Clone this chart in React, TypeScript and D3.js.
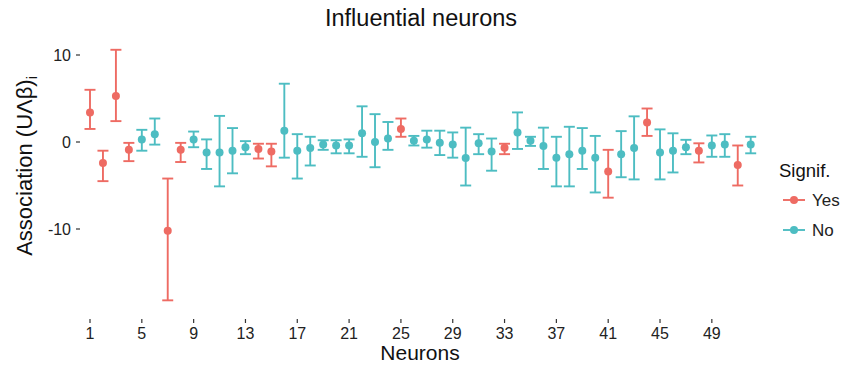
import React from "react";
import * as d3 from "d3";

const neurons = [1,2,3,4,5,6,7,8,9,10,11,12,13,14,15,16,17,18,19,20,21,22,23,24,25,26,27,28,29,30,31,32,33,34,35,36,37,38,39,40,41,42,43,44,45,46,47,48,49,50,51,52];
const estimate = [3.4,-2.4,5.3,-0.9,0.3,0.9,-10.2,-0.9,0.3,-1.2,-1.2,-1.0,-0.6,-0.8,-1.1,1.3,-1.0,-0.7,-0.3,-0.4,-0.4,1.0,0.0,0.4,1.5,0.15,0.3,-0.1,-0.3,-1.85,-0.15,-1.1,-0.65,1.1,0.15,-0.45,-1.8,-1.4,-1.0,-1.8,-3.4,-1.4,-0.7,2.25,-1.2,-1.0,-0.6,-1.0,-0.4,-0.3,-2.65,-0.3];
const upper = [6.0,-1.0,10.6,-0.1,1.4,2.7,-4.2,-0.1,1.2,0.3,3.0,1.6,0.1,-0.2,-0.2,6.7,0.9,0.6,0.2,0.2,0.3,4.1,3.2,2.3,2.7,0.7,1.3,1.3,1.1,1.65,0.9,0.4,-0.2,3.4,0.6,1.65,0.6,1.75,1.6,0.7,-0.9,1.25,2.95,3.85,1.45,1.0,0.25,-0.15,0.75,0.9,-0.4,0.6];
const lower = [1.5,-4.5,2.4,-2.2,-1.0,-0.3,-18.2,-2.3,-0.6,-3.1,-5.1,-3.6,-1.4,-1.9,-2.8,-1.8,-4.2,-2.7,-0.9,-1.3,-1.3,-1.7,-2.9,-0.9,0.6,-0.4,-0.65,-1.5,-1.8,-5.0,-1.4,-3.3,-1.4,-0.8,-0.45,-3.1,-5.1,-5.1,-3.1,-5.8,-6.4,-4.05,-4.3,0.7,-4.3,-3.5,-1.4,-2.35,-1.7,-1.7,-5.0,-1.3];
const signif = ["Yes","Yes","Yes","Yes","No","No","Yes","Yes","No","No","No","No","No","Yes","Yes","No","No","No","No","No","No","No","No","No","Yes","No","No","No","No","No","No","No","Yes","No","No","No","No","No","No","No","Yes","No","No","Yes","No","No","No","Yes","No","No","Yes","No"];
const xTicks = [1,5,9,13,17,21,25,29,33,37,41,45,49];
const yTicks = [-10,0,10];
const legendLevels = ["Yes","No"];

const colors: Record<string,string> = { Yes: "#EE6B63", No: "#4DBDC2" };
const font = "'Liberation Sans', Arial, Helvetica, sans-serif";

export default function App() {
  const W = 846, H = 365;
  const x = d3.scaleLinear().domain([1, 52]).range([90, 750.7]);
  const y = d3.scaleLinear().domain([-10, 10]).range([229, 55]);
  const panelBottom = 319;
  const panelLeft = 80;
  const cap = 5.5;
  return (
    <svg width={W} height={H} style={{ position: "absolute", left: 0, top: 0, background: "#fff" }} fontFamily={font}>
      <rect x={0} y={0} width={W} height={H} fill="#fff" />
      <text x={421} y={26} textAnchor="middle" fontSize={23.5} fill="#111">Influential neurons</text>
      {neurons.map((n, i) => {
        const c = colors[signif[i]];
        const cx = x(n);
        return (
          <g key={n} stroke={c} strokeWidth={1.9}>
            <line x1={cx} x2={cx} y1={y(upper[i])} y2={y(lower[i])} />
            <line x1={cx - cap} x2={cx + cap} y1={y(upper[i])} y2={y(upper[i])} />
            <line x1={cx - cap} x2={cx + cap} y1={y(lower[i])} y2={y(lower[i])} />
            <circle cx={cx} cy={y(estimate[i])} r={4} fill={c} stroke="none" />
          </g>
        );
      })}
      {yTicks.map((t) => (
        <g key={t}>
          <line x1={panelLeft - 4} x2={panelLeft} y1={y(t)} y2={y(t)} stroke="#333" strokeWidth={1.2} />
          <text x={panelLeft - 9} y={y(t)} dy="0.36em" textAnchor="end" fontSize={16} fill="#222">{t}</text>
        </g>
      ))}
      {xTicks.map((t) => (
        <g key={t}>
          <line x1={x(t)} x2={x(t)} y1={panelBottom} y2={panelBottom + 4} stroke="#333" strokeWidth={1.2} />
          <text x={x(t)} y={339} textAnchor="middle" fontSize={16} fill="#222">{t}</text>
        </g>
      ))}
      <text x={420} y={360} textAnchor="middle" fontSize={21} fill="#111">Neurons</text>
      <text transform={`translate(32,166) rotate(-90)`} textAnchor="middle" fontSize={22} fill="#111">
        Association (UΛβ)<tspan fontSize={14} dy={5}>i</tspan>
      </text>
      <text x={779} y={177} fontSize={18.5} fill="#111">Signif.</text>
      {legendLevels.map((lv, i) => {
        const cy = 200 + i * 30;
        return (
          <g key={lv}>
            <line x1={783} x2={805} y1={cy} y2={cy} stroke={colors[lv]} strokeWidth={1.9} />
            <circle cx={794} cy={cy} r={4} fill={colors[lv]} />
            <text x={812} y={cy} dy="0.36em" fontSize={17} fill="#222">{lv}</text>
          </g>
        );
      })}
    </svg>
  );
}
